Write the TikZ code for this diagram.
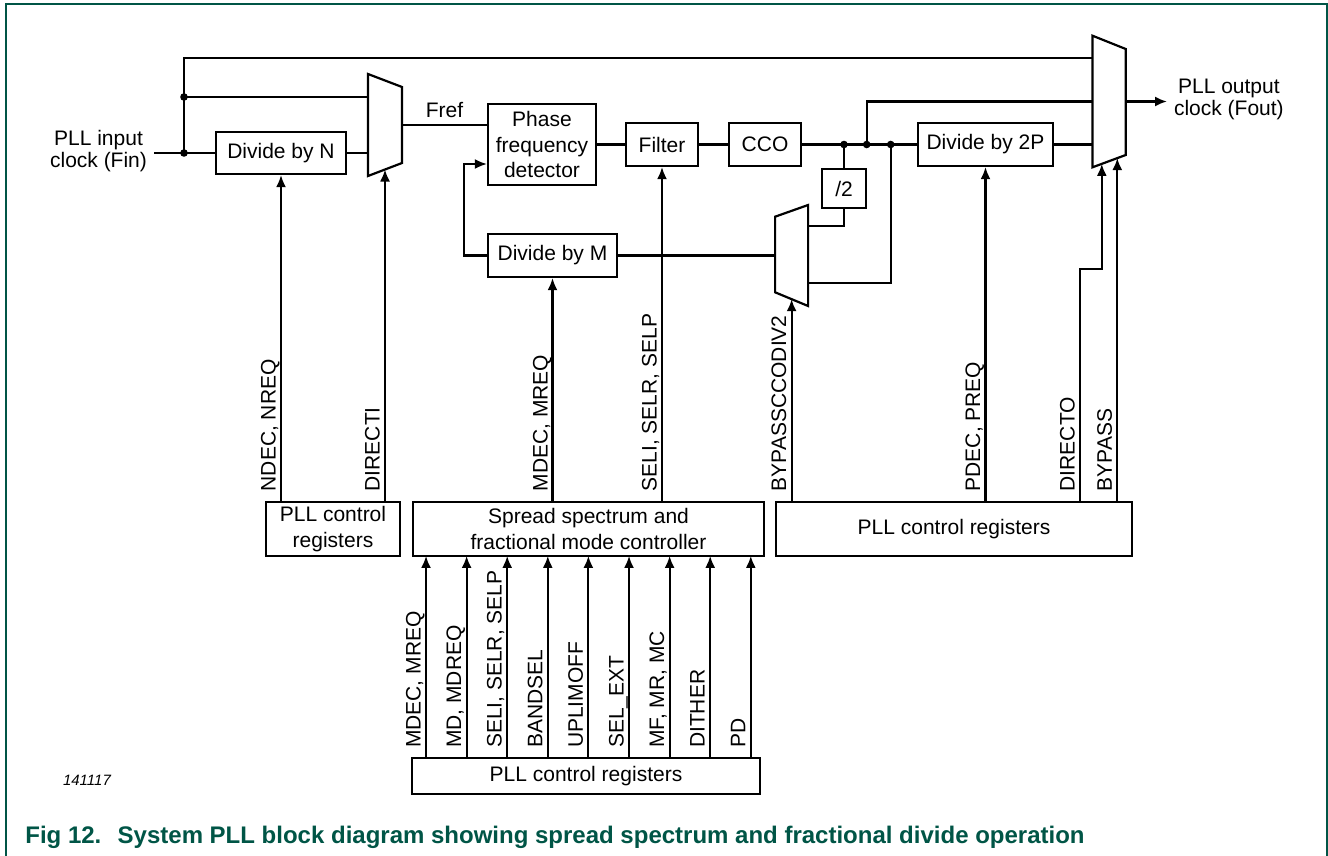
\documentclass[tikz,border=0pt]{standalone}
\usepackage{fontspec}
\setmainfont{Liberation Sans}
\usetikzlibrary{shapes,arrows.meta,positioning}
\definecolor{figgreen}{RGB}{0,85,70}

\begin{document}
\begin{tikzpicture}[x=0.5pt, y=-0.5pt, auto, font=\fontsize{10.5}{12.75}\selectfont]
        % Define block styles
        \tikzstyle{blocknode} = [rectangle, draw, line width=1.1pt, inner sep=2pt, align=center, text centered]
        \tikzstyle{muxnode} = [rectangle, inner sep=0pt, outer sep=0pt]
        \tikzstyle{muxline} = [draw, line width=1.1pt, line join=miter]
        \tikzstyle{wire} = [draw, line width=1.05pt]
        \tikzstyle{line} = [draw, line width=1.05pt, -{Latex[length=6pt, width=5pt]}]
        \tikzstyle{vlabel} = [rotate=90, anchor=base west, inner sep=0pt]
        \tikzstyle{outerlabel} = [align=center, font=\fontsize{10.5}{11}\selectfont]

        \useasboundingbox (0,0) rectangle (1328,856);
        \draw[figgreen, line width=1pt] (6,870) -- (6,4.5) -- (1326.5,4.5) -- (1326.5,870);

        % Define nodes
        \node [outerlabel, anchor=east] (fin) at (154,151) {PLL input\\clock (Fin)};
        \node [blocknode, minimum width=65pt, minimum height=21pt] (divN) at (281,153) {Divide by N};
        \node [muxnode, minimum width=17pt, minimum height=51pt] (muxIn) at (385,125) {};
        \node [blocknode, minimum width=54pt, minimum height=40.5pt] (pfd) at (542,144.5) {Phase\\frequency\\detector};
        \node [blocknode, minimum width=36pt, minimum height=21.5pt, right=13.9pt of pfd] (filter) {Filter};
        \node [blocknode, minimum width=36pt, minimum height=21.5pt, right=14.4pt of filter] (cco) {CCO};
        \node [blocknode, minimum width=67.5pt, minimum height=21.5pt, right=57.4pt of cco] (divP) {Divide by 2P};
        \node [blocknode, minimum width=64.5pt, minimum height=21.5pt] (divM) at (552.5,255.5) {Divide by M};
        \node [blocknode, minimum width=22pt, minimum height=19.5pt] (half) at (844,188.5) {/2};
        \node [muxnode, minimum width=16.5pt, minimum height=50.5pt] (muxFb) at (791.6,255.5) {};
        \node [muxnode, minimum width=16.6pt, minimum height=65.8pt] (muxOut) at (1109.1,101.5) {};
        \node [outerlabel, anchor=west] (fout) at (1167,99.5) {PLL output\\clock (Fout)};

        \node [blocknode, minimum width=67pt, minimum height=27pt] (regsL) at (333,529) {PLL control\\registers};
        \node [blocknode, minimum width=175.5pt, minimum height=27pt, right=5.4pt of regsL] (ssc) {Spread spectrum and\\fractional mode controller};
        \node [blocknode, minimum width=178pt, minimum height=27pt, right=4.9pt of ssc] (regsR) {PLL control registers};
        \node [blocknode, minimum width=174pt, minimum height=18pt] (regsB) at (586,776) {PLL control registers};

        \coordinate (j1) at (184,153);
        \coordinate (j2) at (184,97);
        \coordinate (d1) at (half.north |- cco.east);
        \coordinate (d2) at (866.7,144.5);
        \coordinate (d3) at (890.7,144.5);
        \coordinate (dirO) at (1101.8,163.9);
        \coordinate (byp) at (1117.3,158.1);

        % Multiplexers
        \draw[muxline] (muxIn.north west) -- ([yshift=-6.5pt]muxIn.north east) -- ([yshift=6.5pt]muxIn.south east) -- (muxIn.south west) -- cycle;
        \draw[muxline] (muxFb.north east) -- (muxFb.south east) -- ([yshift=6.85pt]muxFb.south west) -- ([yshift=-5.85pt]muxFb.north west) -- cycle;
        \draw[muxline] (muxOut.north west) -- ([yshift=-6.65pt]muxOut.north east) -- ([yshift=6.15pt]muxOut.south east) -- (muxOut.south west) -- cycle;

        % Connect nodes with paths
        \draw[wire] (fin.east |- divN.west) -- (divN.west);
        \draw[wire] (j1) |- ([yshift=21.6pt]muxOut.west);
        \draw[wire] (j2) -- (j2 -| muxIn.west);
        \draw[wire] (divN.east) -- (divN.east -| muxIn.west);
        \draw[wire] (muxIn.east) -- node[above] {Fref} (muxIn.east -| pfd.west);
        \draw[wire] (pfd.east) -- (filter.west);
        \draw[wire] (filter.east) -- (cco.west);
        \draw[wire] (cco.east) -- (divP.west);
        \draw[wire] (d1) -- (half.north);
        \draw[wire] (half.south) |- ([yshift=14.75pt]muxFb.east);
        \draw[wire] (d3) |- ([yshift=-13.6pt]muxFb.east);
        \draw[wire] (d2) |- (muxOut.west);
        \draw[wire] (divP.east) -- (divP.east -| muxOut.west);
        \draw[wire] (divM.east) -- (divM.east -| muxFb.west);
        \draw[line] (divM.west) -- ++(-23,0) |- ([yshift=-9.75pt]pfd.west);
        \draw[line] (muxOut.east) -- (muxOut.east -| fout.west);
        \fill (j1) circle (1.9pt) (j2) circle (1.9pt) (d1) circle (1.9pt) (d2) circle (1.9pt) (d3) circle (1.9pt);

        % Control inputs
        \draw[line] (divN.south |- regsL.north) -- (divN.south);
        \draw[line] (muxIn.south |- regsL.north) -- ([yshift=3.25pt]muxIn.south);
        \draw[line] (divM.south |- ssc.north) -- (divM.south);
        \draw[line] (filter.south |- ssc.north) -- (filter.south);
        \draw[line] (muxFb.south |- regsR.north) -- ([yshift=3.4pt]muxFb.south);
        \draw[line] (divP.south |- regsR.north) -- (divP.south);
        \draw[line] ([xshift=63pt]regsR.north) -- ++(0,-232) -| (dirO);
        \draw[line] (byp |- regsR.north) -- (byp);

        \node [vlabel] (lbNdec) at (275.5,491.7) {NDEC, NREQ};
        \node [vlabel] (lbDirI) at (379.5,491.7) {DIRECTI};
        \node [vlabel] (lbMdec) at (547.5,491.7) {MDEC, MREQ};
        \node [vlabel] (lbSel) at (656.5,491.7) {SELI, SELR, SELP};
        \node [vlabel] (lbByDiv) at (786,491.7) {BYPASSCCODIV2};
        \node [vlabel] (lbPdec) at (980,491.7) {PDEC, PREQ};
        \node [vlabel] (lbDirO) at (1074.5,491.7) {DIRECTO};
        \node [vlabel] (lbByp) at (1111.8,491.7) {BYPASS};

        \draw[line] ([xshift=-80pt]regsB.north) -- ++(0,-201);
        \draw[line] ([xshift=-59.7pt]regsB.north) -- ++(0,-201);
        \draw[line] ([xshift=-39.4pt]regsB.north) -- ++(0,-201);
        \draw[line] ([xshift=-19.1pt]regsB.north) -- ++(0,-201);
        \draw[line] ([xshift=1.2pt]regsB.north) -- ++(0,-201);
        \draw[line] ([xshift=21.5pt]regsB.north) -- ++(0,-201);
        \draw[line] ([xshift=41.8pt]regsB.north) -- ++(0,-201);
        \draw[line] ([xshift=62.1pt]regsB.north) -- ++(0,-201);
        \draw[line] ([xshift=82.4pt]regsB.north) -- ++(0,-201);

        \node [vlabel] (lbMdecB) at (420.5,748.3) {MDEC, MREQ};
        \node [vlabel] (lbMd) at (461.1,748.3) {MD, MDREQ};
        \node [vlabel] (lbSelB) at (501.7,748.3) {SELI, SELR, SELP};
        \node [vlabel] (lbBand) at (542.3,748.3) {BANDSEL};
        \node [vlabel] (lbUplim) at (582.9,748.3) {UPLIMOFF};
        \node [vlabel] (lbSelExt) at (623.5,748.3) {SEL\_EXT};
        \node [vlabel] (lbMf) at (664.1,748.3) {MF, MR, MC};
        \node [vlabel] (lbDither) at (704.7,748.3) {DITHER};
        \node [vlabel] (lbPd) at (745.3,748.3) {PD};

        % Figure id and caption
        \node [anchor=west, font=\fontsize{7.5}{9}\selectfont\itshape] (figId) at (56,780) {141117};
        \node [anchor=base west, inner sep=0pt, text=figgreen, font=\fontsize{12}{14}\selectfont\bfseries] (figNo) at (25,843) {Fig 12.};
        \node [anchor=base east, inner sep=0pt, text=figgreen, font=\fontsize{12}{14}\selectfont\bfseries] (figTitle) at (1085,843) {System PLL block diagram showing spread spectrum and fractional divide operation};
    \end{tikzpicture}
\end{document}
